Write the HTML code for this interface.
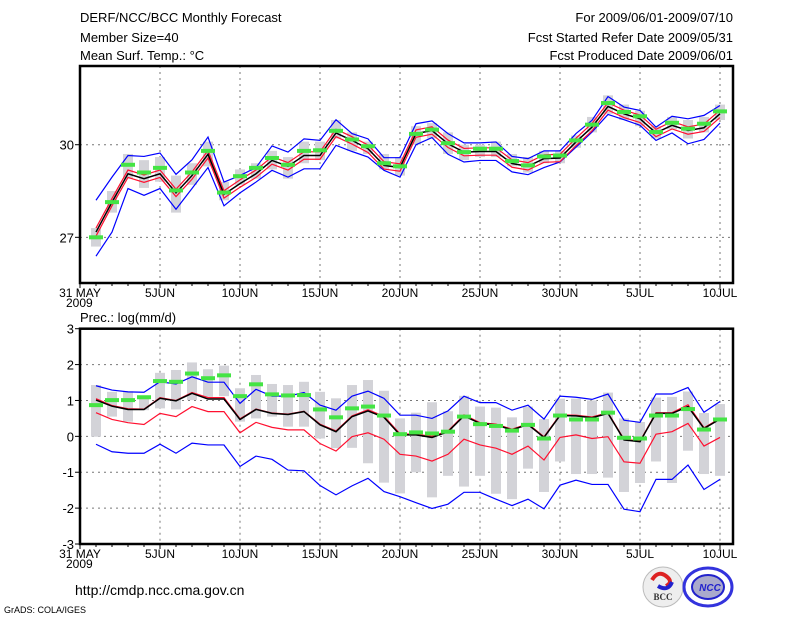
<!DOCTYPE html>
<html><head><meta charset="utf-8">
<style>
body{margin:0;background:#fff;}
svg{display:block;font-family:"Liberation Sans",sans-serif;}
</style></head>
<body>
<svg id="chart" width="800" height="618" viewBox="0 0 800 618">
<g font-size="13" fill="#000">
<text x="80" y="22">DERF/NCC/BCC Monthly Forecast</text>
<text x="80" y="42">Member Size=40</text>
<text x="80" y="60">Mean Surf. Temp.: °C</text>
<text x="733" y="22" text-anchor="end">For 2009/06/01-2009/07/10</text>
<text x="733" y="42" text-anchor="end">Fcst Started Refer Date 2009/05/31</text>
<text x="733" y="60" text-anchor="end">Fcst Produced Date 2009/06/01</text>
</g>
<text x="80" y="322" font-size="13">Prec.: log(mm/d)</text>
<text x="75" y="595" font-size="14">http://cmdp.ncc.cma.gov.cn</text>
<text x="4" y="613" font-size="9">GrADS: COLA/IGES</text>
<g>
<circle cx="663" cy="587" r="20" fill="#eee" stroke="#bbb"/>
<path d="M652 580 q6 -10 14 -4 q8 6 0 10" stroke="#d22" stroke-width="4" fill="none"/>
<path d="M672 582 q-4 10 -14 4" stroke="#22c" stroke-width="4" fill="none"/>
<text x="663" y="600" font-size="9" font-family="Liberation Serif,serif" font-weight="bold" text-anchor="middle" fill="#333">BCC</text>
</g>
<g>
<ellipse cx="708" cy="587" rx="24" ry="19" fill="#fff" stroke="#33d" stroke-width="3"/>
<ellipse cx="708" cy="587" rx="16" ry="12" fill="#aac" stroke="#22c" stroke-width="2"/>
<text x="710" y="591" font-size="10" font-style="italic" font-weight="bold" text-anchor="middle" fill="#22c">NCC</text>
</g>
<g id="top"></g>
<g id="bot"></g>
</svg>
<script>
// ----- Temperature panel data (days 1..40) -----
const days = [1,2,3,4,5,6,7,8,9,10,11,12,13,14,15,16,17,18,19,20,21,22,23,24,25,26,27,28,29,30,31,32,33,34,35,36,37,38,39,40];
const tMean = [27.17,28.14,29.06,28.9,29.06,28.44,29.0,29.69,28.39,28.74,29.06,29.49,29.3,29.65,29.65,30.38,30.14,29.87,29.33,29.26,30.36,30.46,30.03,29.76,29.78,29.78,29.39,29.3,29.55,29.57,30.09,30.57,31.24,31.0,30.84,30.38,30.63,30.46,30.55,31.0];
const tRedHi = [27.3,28.26,29.18,29.02,29.18,28.56,29.12,29.81,28.51,28.86,29.18,29.61,29.42,29.77,29.77,30.5,30.26,29.99,29.45,29.38,30.48,30.58,30.15,29.88,29.9,29.9,29.51,29.42,29.67,29.69,30.21,30.69,31.36,31.12,30.96,30.5,30.75,30.58,30.67,31.12];
const tRedLo = [27.04,28.02,28.94,28.78,28.94,28.32,28.88,29.57,28.27,28.62,28.94,29.37,29.18,29.53,29.53,30.26,30.02,29.75,29.21,29.14,30.24,30.34,29.91,29.64,29.66,29.66,29.27,29.18,29.43,29.45,29.97,30.45,31.12,30.88,30.72,30.26,30.51,30.34,30.43,30.88];
const tBlueHi = [28.2,28.95,29.65,29.62,29.73,29.04,29.51,30.25,28.79,29.0,29.26,29.96,29.76,30.19,30.14,30.81,30.36,30.19,29.58,29.58,30.68,30.77,30.36,30.06,30.06,30.09,29.62,29.55,29.8,29.8,30.36,30.79,31.56,31.22,31.11,30.57,30.92,30.84,30.95,31.27];
const tBlueLo = [26.39,27.17,28.58,28.36,28.58,27.91,28.58,29.26,28.02,28.44,28.79,29.17,28.95,29.22,29.22,29.98,29.78,29.6,29.17,28.95,30.0,30.23,29.69,29.44,29.49,29.49,29.12,29.03,29.26,29.44,29.92,30.41,30.98,30.81,30.63,30.14,30.38,30.03,30.17,30.7];
const tObs = [27.0,28.14,29.35,29.1,29.25,28.52,29.1,29.8,28.45,28.98,29.25,29.57,29.35,29.8,29.82,30.45,30.17,29.95,29.4,29.3,30.35,30.49,30.05,29.76,29.87,29.87,29.47,29.33,29.62,29.65,30.14,30.65,31.35,31.06,30.92,30.41,30.71,30.52,30.68,31.08];
const tBoxHi = [27.3,28.5,29.7,29.5,29.6,29.0,29.4,30.1,28.8,29.2,29.4,29.8,29.6,30.1,30.1,30.8,30.4,30.1,29.7,29.6,30.6,30.7,30.4,30.0,30.0,30.1,29.7,29.6,29.8,29.8,30.3,30.9,31.6,31.3,31.1,30.6,30.9,30.8,30.9,31.3];
const tBoxLo = [26.7,27.8,28.9,28.6,28.8,27.8,28.7,29.3,28.2,28.7,28.9,29.2,28.9,29.4,29.5,30.2,29.8,29.7,29.2,29.0,30.0,30.2,29.7,29.5,29.6,29.6,29.3,29.1,29.4,29.4,29.9,30.4,31.0,30.8,30.6,30.2,30.5,30.2,30.4,30.8];
const tTicks = [27,30];
// ----- Precipitation panel data -----
const pMean = [1.01,0.84,0.75,0.75,1.06,0.99,1.2,1.04,1.04,0.47,0.75,0.64,0.61,0.69,0.32,0.13,0.55,0.71,0.53,0.04,0.04,-0.03,0.13,0.57,0.36,0.32,0.18,0.33,-0.03,0.58,0.57,0.52,0.64,-0.1,-0.15,0.64,0.64,0.83,0.22,0.48];
const pRedHi = [1.05,0.86,0.77,0.76,1.08,1.0,1.22,1.08,1.08,0.49,0.76,0.65,0.62,0.7,0.34,0.15,0.57,0.74,0.56,0.07,0.06,0.0,0.15,0.6,0.38,0.34,0.2,0.35,-0.01,0.6,0.59,0.54,0.66,-0.08,-0.13,0.66,0.66,0.88,0.24,0.5];
const pRedLo = [0.66,0.47,0.38,0.33,0.64,0.55,0.83,0.69,0.69,0.1,0.39,0.25,0.18,0.18,-0.2,-0.41,-0.01,0.1,-0.08,-0.5,-0.55,-0.69,-0.5,-0.08,-0.24,-0.33,-0.5,-0.27,-0.66,-0.03,0.04,-0.06,-0.01,-0.71,-0.75,0.06,0.13,0.36,-0.27,-0.03];
const pBlueHi = [1.41,1.29,1.24,1.23,1.52,1.46,1.66,1.51,1.51,0.92,1.31,1.12,1.12,1.22,0.87,0.73,1.12,1.26,1.06,0.59,0.59,0.5,0.71,1.12,0.94,0.94,0.73,0.87,0.48,1.12,1.09,1.03,1.18,0.45,0.39,1.18,1.18,1.36,0.67,0.97];
const pBlueLo = [-0.22,-0.43,-0.47,-0.47,-0.22,-0.47,-0.19,-0.24,-0.24,-0.84,-0.55,-0.64,-0.94,-0.96,-1.37,-1.63,-1.38,-1.17,-1.54,-1.68,-1.85,-2.01,-1.89,-1.56,-1.56,-1.75,-1.93,-1.75,-2.02,-1.36,-1.22,-1.34,-1.34,-2.03,-2.1,-1.2,-1.2,-0.8,-1.48,-1.2];
const pObs = [0.87,1.01,1.01,1.09,1.54,1.52,1.75,1.62,1.7,1.12,1.45,1.17,1.14,1.15,0.75,0.53,0.78,0.83,0.58,0.06,0.11,0.08,0.13,0.55,0.34,0.29,0.16,0.32,-0.06,0.58,0.47,0.47,0.66,-0.04,-0.06,0.58,0.58,0.76,0.19,0.47];
const pBoxHi = [1.43,1.24,1.26,1.06,1.77,1.85,2.06,1.87,1.97,1.34,1.71,1.46,1.43,1.52,1.24,1.06,1.43,1.57,1.27,0.5,0.66,0.95,0.7,1.13,0.83,0.8,0.53,0.83,0.48,1.05,1.05,1.0,1.22,0.5,0.4,1.08,1.1,1.25,0.65,0.9];
const pBoxLo = [-0.01,0.55,0.41,0.73,0.78,0.75,1.01,1.1,1.12,0.41,0.5,0.55,0.27,0.27,-0.06,-0.33,-0.32,-0.75,-1.29,-1.59,-1.0,-1.7,-1.1,-1.4,-1.1,-1.6,-1.75,-0.9,-1.55,-0.7,-1.05,-1.05,-1.15,-1.55,-1.3,-0.7,-1.3,-0.4,-1.05,-1.1];
const pTicks = [-3,-2,-1,0,1,2,3];
const xLabels = ["31 MAY","5JUN","10JUN","15JUN","20JUN","25JUN","30JUN","5JUL","10JUL"];
const xLabelDays = [0,5,10,15,20,25,30,35,40];

const NS="http://www.w3.org/2000/svg";
const X0=80, X1=733, DX=16;
const xs = d => X0 + d*DX;
function mk(parent,tag,attrs){const e=document.createElementNS(NS,tag);for(const k in attrs)e.setAttribute(k,attrs[k]);parent.appendChild(e);return e;}

function panel(g, top, bot, vmin, vmax, ticks, series, prefix){
  const ys = v => bot - (v - vmin)/(vmax - vmin)*(bot - top);
  // grid
  xLabelDays.forEach(d=>{ if(d>0){ const l=mk(g,'line',{x1:xs(d),x2:xs(d),y1:top,y2:bot,stroke:'#777','stroke-dasharray':'2,4'});
    
    }});
  ticks.forEach(t=>{ if(t>vmin && t<vmax){ const l=mk(g,'line',{x1:X0,x2:X1,y1:ys(t),y2:ys(t),stroke:'#777','stroke-dasharray':'2,4'});
    
    }});
  // boxes
  days.forEach((d,i)=>{
    const r=mk(g,'rect',{x:xs(d)-5,y:ys(series.boxHi[i]),width:10,height:Math.max(1,ys(series.boxLo[i])-ys(series.boxHi[i])),fill:'#d3d3d8'});
    
    
  });
  const line=(arr,col,w,name)=>{
    const p=mk(g,'polyline',{points:days.map((d,i)=>xs(d)+','+ys(arr[i])).join(' '),fill:'none',stroke:col,'stroke-width':w});
    
    
  };
  line(series.blueHi,'#0000ff',1.2,prefix+'-max-line');
  line(series.blueLo,'#0000ff',1.2,prefix+'-min-line');
  line(series.redHi,'#ff1030',1.2,prefix+'-upper-line');
  line(series.redLo,'#ff1030',1.2,prefix+'-lower-line');
  line(series.mean,'#000',1.5,prefix+'-mean-line');
  days.forEach((d,i)=>{
    const r=mk(g,'rect',{x:xs(d)-7,y:ys(series.obs[i])-2,width:14,height:4,fill:'#44e444'});
    
    
  });
  // frame
  const f=mk(g,'rect',{x:X0,y:top,width:X1-X0,height:bot-top,fill:'none',stroke:'#000','stroke-width':2.5});
  
  
  // y labels
  ticks.forEach(t=>{
    mk(g,'line',{x1:X0-5,x2:X0,y1:ys(t),y2:ys(t),stroke:'#000'});
    const tx=mk(g,'text',{x:X0-6,y:ys(t)+5,'text-anchor':'end','font-size':13});
    tx.textContent=String(t);
    
    
  });
  // x ticks
  for(let d=0; d<=40; d++){ mk(g,'line',{x1:xs(d),x2:xs(d),y1:bot,y2:bot+(d%5==0?5:3),stroke:'#000'}); }
  xLabelDays.forEach((d,i)=>{
    const tx=mk(g,'text',{x:xs(d),y:bot+14,'text-anchor':'middle','font-size':12});
    tx.textContent=xLabels[i];
    
    
  });
  const yr=mk(g,'text',{x:66,y:bot+24,'font-size':12});
  yr.textContent='2009';
  
  
}
const topG=document.getElementById('top');


const botG=document.getElementById('bot');


panel(topG,66,283,25.52,32.55,tTicks,{mean:tMean,redHi:tRedHi,redLo:tRedLo,blueHi:tBlueHi,blueLo:tBlueLo,obs:tObs,boxHi:tBoxHi,boxLo:tBoxLo},'temp');
panel(botG,328.7,544,-3,3,pTicks,{mean:pMean,redHi:pRedHi,redLo:pRedLo,blueHi:pBlueHi,blueLo:pBlueLo,obs:pObs,boxHi:pBoxHi,boxLo:pBoxLo},'prec');
</script>
</body></html>
